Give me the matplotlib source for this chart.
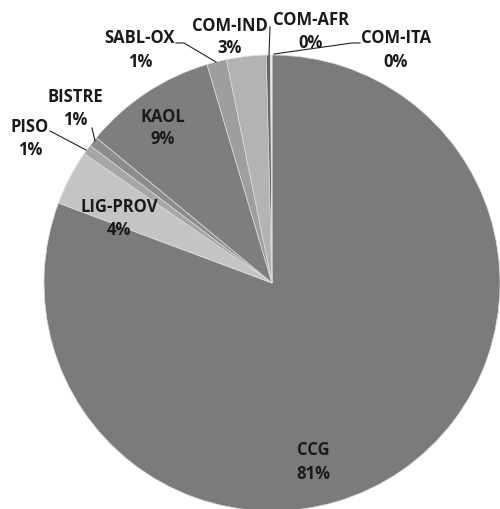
import matplotlib.pyplot as plt

# sample shares (percent), in drawing order clockwise from 12 o'clock
categories = ["CCG", "LIG-PROV", "PISO", "BISTRE", "KAOL",
              "SABL-OX", "COM-IND", "COM-AFR", "COM-ITA"]
shares = [80.7, 3.9, 0.7, 0.7, 9.4, 1.4, 2.8, 0.3, 0.1]

colors = ["#7b7b7b", "#c4c4c4", "#a6a6a6", "#8c8c8c", "#7e7e7e",
          "#9e9e9e", "#b3b3b3", "#666666", "#f4f4f4"]

W, H = 500, 509
CX, CY, R = 272, 283, 228


def to_data(px, py):
    # pixel position -> data coordinates (pie radius = 1)
    return (px - CX) / R, (CY - py) / R


# label: x centre, name line y, percent line y (pixels), leader line points
label_pos = {
    "CCG": (313, 450, 474, None),
    "LIG-PROV": (119, 207, 230, None),
    "PISO": (30, 127, 150, [(50, 131), (86, 150)]),
    "BISTRE": (75, 97, 120, [(92, 128), (95, 141)]),
    "KAOL": (163, 117, 139, None),
    "SABL-OX": (140, 38, 62, [(176, 43), (184, 43), (216, 62)]),
    "COM-IND": (230, 26, 48, None),
    "COM-AFR": (311, 20, 43, [(270, 27), (269, 55)]),
    "COM-ITA": (396, 38, 62, [(360, 43), (352, 43), (274, 54)]),
}

plt.rcParams["font.family"] = ["Open Sans", "DejaVu Sans"]

fig = plt.figure(figsize=(W / 100, H / 100), dpi=100)
ax = fig.add_axes([0, 0, 1, 1])

ax.pie(shares, colors=colors, startangle=90, counterclock=False,
       radius=1, center=(0, 0),
       wedgeprops=dict(edgecolor="#dcdcdc", linewidth=0.5))

x0, y0 = to_data(0, 0)
x1, y1 = to_data(W, H)
ax.set_xlim(x0, x1)
ax.set_ylim(y1, y0)
ax.set_aspect("auto")
ax.axis("off")

style = dict(ha="center", va="center", fontsize=12, fontweight="bold",
             color="#1a1a1a")
for name, val in zip(categories, shares):
    px, py_name, py_pct, leader = label_pos[name]
    ax.text(*to_data(px, py_name), name, **style)
    ax.text(*to_data(px, py_pct), f"{round(val):.0f}%", **style)
    if leader:
        pts = [to_data(a, b) for a, b in leader]
        ax.plot([p[0] for p in pts], [p[1] for p in pts],
                color="#222222", linewidth=0.8, clip_on=False)

fig.savefig("out.png", dpi=100)
